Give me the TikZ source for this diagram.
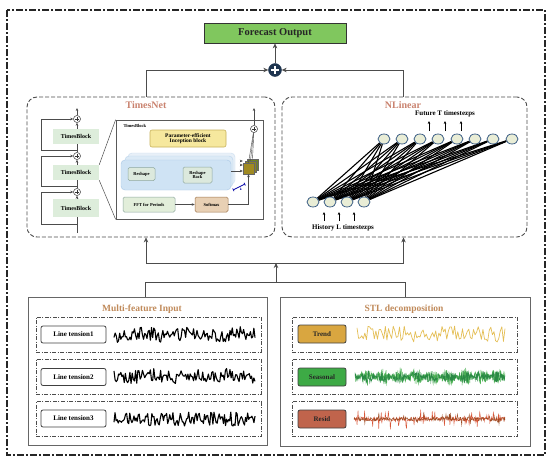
\documentclass[tikz,border=0pt]{standalone}
\usepackage{fontspec}
\setmainfont{Liberation Serif}
\usetikzlibrary{arrows.meta,shapes.geometric,calc}
\pgfdeclarelayer{bg}
\pgfsetlayers{bg,main}
\definecolor{fcgreen}{HTML}{80C75E}
\definecolor{navy}{HTML}{1F3550}
\definecolor{ttl}{HTML}{C9826E}
\definecolor{ttlb}{HTML}{C08A5A}
\definecolor{tbg}{HTML}{DDEDDB}
\definecolor{incy}{HTML}{F6E89E}
\definecolor{incb}{HTML}{C8B25A}
\definecolor{blu1}{HTML}{CFE3F4}
\definecolor{blu2}{HTML}{DCEAF6}
\definecolor{blu3}{HTML}{E8F0F8}
\definecolor{bluB}{HTML}{A9C8E6}
\definecolor{rsh}{HTML}{DCE9DD}
\definecolor{rshb}{HTML}{8FA8A0}
\definecolor{fftc}{HTML}{E2EEDA}
\definecolor{smx}{HTML}{E8D0B4}
\definecolor{smxb}{HTML}{A07850}
\definecolor{oliv1}{HTML}{6E8424}
\definecolor{oliv2}{HTML}{8C8420}
\definecolor{oliv3}{HTML}{A08A22}
\definecolor{nlfill}{HTML}{E9EDD6}
\definecolor{nlbord}{HTML}{3D5F86}
\definecolor{trendc}{HTML}{D9A640}
\definecolor{trendw}{HTML}{E4BE55}
\definecolor{seasc}{HTML}{3DAA45}
\definecolor{seasw}{HTML}{2A8A45}
\definecolor{residc}{HTML}{C0644C}
\definecolor{residw}{HTML}{9A4A22}
\definecolor{residr}{HTML}{D8583A}
\newcommand\myfs[1]{\fontsize{#1}{#1}\selectfont\bfseries}
\tikzset{
  conn/.style={draw=black!70, line width=0.6pt},
  arr/.style={-{Stealth[length=5pt,width=4.5pt]}},
  sarr/.style={-{Stealth[length=3pt,width=2.6pt]}},
  panel/.style={draw=black!70, dash pattern=on 4pt off 2pt, line width=0.9pt, rounded corners=10pt, inner sep=0pt},
  ptitle/.style={text=ttl, font=\myfs{10}},
  btitle/.style={text=ttlb, font=\myfs{9.5}},
  tblk/.style={fill=tbg, minimum width=46pt, minimum height=15pt, inner sep=0pt, font=\myfs{6}},
  splus/.style={circle, draw=black!80, fill=white, line width=0.5pt, minimum size=7pt, inner sep=0pt,
     path picture={\draw[line width=0.4pt] ([yshift=2.2pt]path picture bounding box.center) -- ([yshift=-2.2pt]path picture bounding box.center)
        ([xshift=-2.2pt]path picture bounding box.center) -- ([xshift=2.2pt]path picture bounding box.center);}},
  inbox/.style={draw=rshb, fill=rsh, line width=0.5pt, rounded corners=1.5pt, inner sep=0pt, align=center, font=\myfs{4.5}},
  nlc/.style={ellipse, draw=nlbord, fill=nlfill, line width=0.8pt, minimum width=12pt, minimum height=10pt, inner sep=0pt},
  nll/.style={black, line width=1.1pt},
  dashdot/.style={draw=black!70, line width=0.6pt, dash pattern=on 4pt off 1.5pt on 1pt off 1.5pt, inner sep=0pt},
  ltbox/.style={draw=black!75, line width=0.8pt, rounded corners=2pt, minimum width=65pt, minimum height=17pt, inner sep=0pt, font=\myfs{7}},
  stlbox/.style={draw=black!75, line width=0.8pt, rounded corners=2pt, minimum width=48pt, minimum height=18pt, inner sep=0pt, font=\myfs{7}, text=black!85},
}
\begin{document}
\begin{tikzpicture}[x=1pt,y=-1pt]
\useasboundingbox (0,0) rectangle (550,466);
% outer frame
\draw[dash pattern=on 7pt off 2pt on 2pt off 2pt, line width=1.1pt, black!85] (7,10) rectangle (545,455);

% top output
\node[draw=black!80, fill=fcgreen, line width=0.8pt, minimum width=142pt, minimum height=20pt, inner sep=0pt, font=\myfs{10.5}, text=black!85] (fc) at (275,33) {Forecast Output};
\node[circle, fill=navy, draw=navy, minimum size=13pt, inner sep=0pt,
  path picture={\draw[white, line width=1.6pt] ([yshift=3.8pt]path picture bounding box.center) -- ([yshift=-3.8pt]path picture bounding box.center)
     ([xshift=-3.8pt]path picture bounding box.center) -- ([xshift=3.8pt]path picture bounding box.center);}] (plus) at (275,70) {};

% main panels
\node[panel, minimum width=248pt, minimum height=140pt] (tn) at (151,167) {};
\node[panel, minimum width=245pt, minimum height=140pt] (nl) at (404.5,167) {};
\node[ptitle] (tnt) at (146,105) {TimesNet};
\node[ptitle] (nlt) at (403,105) {NLinear};

\draw[conn, arr] ([xshift=-5pt]tn.north) |- (plus);
\draw[conn, arr] ([xshift=-1.5pt]nl.north) |- (plus);
\draw[conn, arr] (plus) -- (fc);

% ---------- TimesNet left column ----------
\node[tblk] (tb1) at (76,136) {TimesBlock};
\node[tblk] (tb2) at (76,172.5) {TimesBlock};
\node[tblk, minimum height=18pt] (tb3) at (76,208) {TimesBlock};
\node[splus] (p1) at (77,119) {};
\node[splus] (p2) at (77,156) {};
\node[splus] (p3) at (77,192) {};
\coordinate (tin) at (77,233);
\coordinate (tout) at (77,108);
\coordinate (br1) at (77,150);
\coordinate (br2) at (77,186);
\coordinate (br3) at (77,224);
\coordinate (lx) at (41,0);
\begin{pgfonlayer}{bg}
\draw[conn, sarr] (tin) -- (p3);
\draw[conn, sarr] (p3) -- (p2);
\draw[conn, sarr] (p2) -- (p1);
\draw[conn, sarr] (p1) -- (tout);
\draw[conn, sarr] (br1) -- (br1 -| lx) |- (p1);
\draw[conn, sarr] (br2) -- (br2 -| lx) |- (p2);
\draw[conn, sarr] (br3) -- (br3 -| lx) |- (p3);
\end{pgfonlayer}

% ---------- TimesBlock detail ----------
\node[draw=black!65, fill=white, line width=0.7pt, minimum width=147pt, minimum height=99pt, inner sep=0pt] (det) at (189.5,169.5) {};
\draw[conn, line width=0.5pt] (tb2.north east) -- (det.north west);
\draw[conn, line width=0.5pt] (tb2.south east) -- (det.south west);
\node[anchor=west, font=\myfs{4.5}] (dett) at (120,125.5) {TimesBlock};
\node[draw=incb, fill=incy, line width=0.6pt, rounded corners=2pt, minimum width=76pt, minimum height=17pt, inner sep=0pt, align=center, font=\myfs{5.5}] (inc) at (188,138.5) {Parameter-efficient\\Inception block};
\node[draw=bluB!60, fill=blu3, rounded corners=4pt, minimum width=107pt, minimum height=31pt, inner sep=0pt] (blb) at (181.5,168.5) {};
\node[draw=bluB!80, fill=blu2, rounded corners=4pt, minimum width=108pt, minimum height=31pt, inner sep=0pt] (blm) at (179,171.5) {};
\node[draw=bluB, fill=blu1, rounded corners=4pt, minimum width=110pt, minimum height=30pt, inner sep=0pt] (blu) at (176,175) {};
\node[inbox, minimum width=27pt, minimum height=13pt] (rs) at (141.5,174) {Reshape};
\node[inbox, minimum width=29pt, minimum height=16pt] (rsb) at (197.5,175) {Reshape\\Back};
\node[inbox, fill=fftc, minimum width=52pt, minimum height=15pt] (fft) at (149,204.5) {FFT for Periods};
\node[inbox, draw=smxb, fill=smx, minimum width=33pt, minimum height=15pt] (sm) at (211.5,204.5) {Softmax};
\node[draw=black!60, fill=oliv1, minimum size=11pt, inner sep=0pt] (sq1) at (252.5,164.5) {};
\node[draw=black!60, fill=oliv2, minimum size=11pt, inner sep=0pt] (sq2) at (250.5,166.5) {};
\node[draw=black!60, fill=oliv3, minimum size=11pt, inner sep=0pt] (sq3) at (248.5,168.5) {};
\node[splus] (rp) at (254,129) {};
\coordinate (rout) at (254,108);
\coordinate (a1) at (240,161);
\coordinate (a2) at (240,165);
\coordinate (a3) at (231,171);
\draw[conn, sarr] (fft) -- (sm);
\draw[conn, sarr] (sm.east) -| (sq3.south);
\draw[conn, sarr, line width=0.4pt] (a1) -- (a1 -| sq3.west);
\draw[conn, sarr, line width=0.4pt] (a2) -- (a2 -| sq3.west);
\draw[conn, sarr, line width=0.4pt] (a3) -- (a3 -| sq3.west);
\draw[conn, line width=0.4pt] (sq1.north) -- (rp);
\draw[conn, line width=0.4pt] (sq2.north) -- (rp);
\draw[conn, line width=0.4pt] (sq3.north) -- (rp);
\draw[conn, sarr] (rp) -- (rout);
\coordinate (kA) at (233,190);
\coordinate (kB) at (245,184);
\draw[blue!65!black, line width=0.7pt, {Bar[width=3pt]}-{Bar[width=3pt]}] (kA) -- (kB) node[midway, below right, inner sep=0.5pt, font=\myfs{3.5}] (kl) {k};

% ---------- NLinear ----------
\foreach \i/\xx in {1/384,2/402,3/420,4/438,5/457,6/475,7/493,8/512} {
  \node[nlc] (t\i) at (\xx,139) {};
}
\foreach \i/\xx in {1/313,2/330,3/347,4/364} {
  \node[nlc] (b\i) at (\xx,202) {};
}
\begin{pgfonlayer}{bg}
\foreach \i in {1,...,4} {
  \foreach \j in {1,...,8} {
    \draw[nll] (b\i) -- (t\j);
  }
}
\end{pgfonlayer}
\node[font=\myfs{7}] (ft) at (445,114) {Future T timestezps};
\node[font=\myfs{7}] (ht) at (343,228) {History L timestezps};
\foreach \xx [count=\k] in {429,445,461} {
  \coordinate (fa\k) at (\xx,131);
  \coordinate (fb\k) at (\xx,121);
  \draw[black, line width=0.7pt, sarr] (fa\k) -- (fb\k);
}
\foreach \xx [count=\k] in {324,339,354} {
  \coordinate (ha\k) at (\xx,221);
  \coordinate (hb\k) at (\xx,212);
  \draw[black, line width=0.7pt, sarr] (ha\k) -- (hb\k);
}

% ---------- bottom panels ----------
\node[draw=black!60, line width=0.8pt, minimum width=239pt, minimum height=148pt, inner sep=0pt] (mf) at (147.5,371) {};
\node[draw=black!60, line width=0.8pt, minimum width=250pt, minimum height=149pt, inner sep=0pt] (stl) at (405,371.5) {};
\node[btitle] (mft) at (142,309) {Multi-feature Input};
\node[btitle] (stlt) at (404,309) {STL decomposition};

\coordinate (jt) at (276,263);
\coordinate (jb) at (276,282);
\draw[conn, arr] (jt) -| ([xshift=-5pt]tn.south);
\draw[conn, arr] (jt) -| ([xshift=-1pt]nl.south);
\draw[conn, arr] (jb) -- (jt);
\draw[conn] (jb) -| ([xshift=-2pt]mf.north);
\draw[conn] (jb) -| (stl.north);

% rows
\foreach \r/\yy in {1/334.5,2/376.5,3/419} {
  \node[dashdot, minimum width=225pt, minimum height=35pt] (mr\r) at (148.5,\yy) {};
  \node[dashdot, minimum width=225pt, minimum height=35pt] (sr\r) at (404.5,\yy) {};
}
\node[ltbox] (lt1) at (73.5,334.5) {Line tension1};
\node[ltbox] (lt2) at (73.5,377) {Line tension2};
\node[ltbox] (lt3) at (73.5,418.5) {Line tension3};
\node[stlbox, fill=trendc] (tr) at (322,334) {Trend};
\node[stlbox, fill=seasc] (se) at (322,377) {Seasonal};
\node[stlbox, fill=residc] (re) at (322,419) {Resid};

% waveforms
\pgfmathsetseed{7}
\draw[black, line width=1.1pt, line join=round] plot[domain=114:255, samples=125] (\x, {334.5+6.5*rand+1.5*sin(7*\x)});
\draw[black, line width=1.1pt, line join=round] plot[domain=114:255, samples=125] (\x, {376+6.5*rand+1.5*sin(9*\x)});
\draw[black, line width=1.1pt, line join=round] plot[domain=114:255, samples=135] (\x, {419+7*rand});
\draw[trendw, line width=0.7pt, line join=round] plot[domain=357:505, samples=95] (\x, {334+8*rand});
\draw[seasc, line width=0.45pt, opacity=0.9] plot[domain=355:505, samples=600] (\x, {377+(2+8*abs(sin(11*\x+15))*(0.5+0.5*rnd))*rand});
\draw[seasw, line width=0.4pt] plot[domain=355:505, samples=450] (\x, {377+(1.5+5*abs(sin(11*\x+15)))*rand});
\draw[residr, line width=0.45pt] plot[domain=354:505, samples=300] (\x, {419+2*rand+(rnd>0.8)*9*rand});
\draw[residw, line width=0.45pt] plot[domain=354:505, samples=280] (\x, {419+1.8*rand+(rnd>0.9)*6*rand});
\end{tikzpicture}
\end{document}
